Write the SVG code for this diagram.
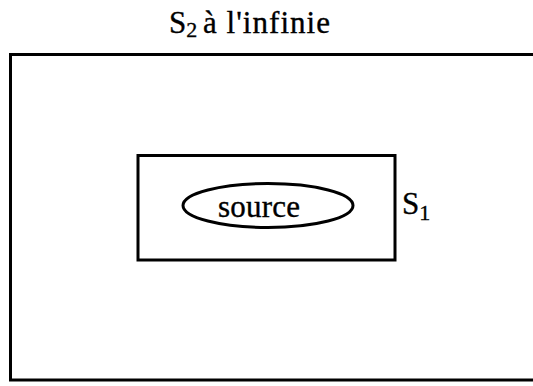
<svg xmlns="http://www.w3.org/2000/svg" width="533" height="386" viewBox="0 0 533 386">
<style>
.ln{fill:none;stroke:#000;stroke-width:3}
.t{font-family:"Liberation Serif","Times New Roman",serif;fill:#000;stroke:#000;stroke-width:0.35}
</style>
<rect width="533" height="386" fill="#fff"/>
<g id="S2">
<rect class="ln" x="10.5" y="54.5" width="535" height="325.5"/>
<text class="t" x="169" y="33" font-size="31">S<tspan font-size="22" dy="4">2</tspan></text>
<text class="t" x="203" y="33" font-size="31" textLength="127" lengthAdjust="spacing">à l'infinie</text>
</g>
<g id="S1">
<rect class="ln" x="138" y="155.5" width="257" height="104.5"/>
<text class="t" x="402" y="214" font-size="31">S<tspan font-size="22" dy="6">1</tspan></text>
</g>
<g id="source">
<ellipse class="ln" stroke-width="2.6" cx="268" cy="205.5" rx="85" ry="22"/>
<text class="t" x="218" y="217" font-size="31" textLength="82" lengthAdjust="spacing">source</text>
</g>
<g id="connectors"/>
</svg>
